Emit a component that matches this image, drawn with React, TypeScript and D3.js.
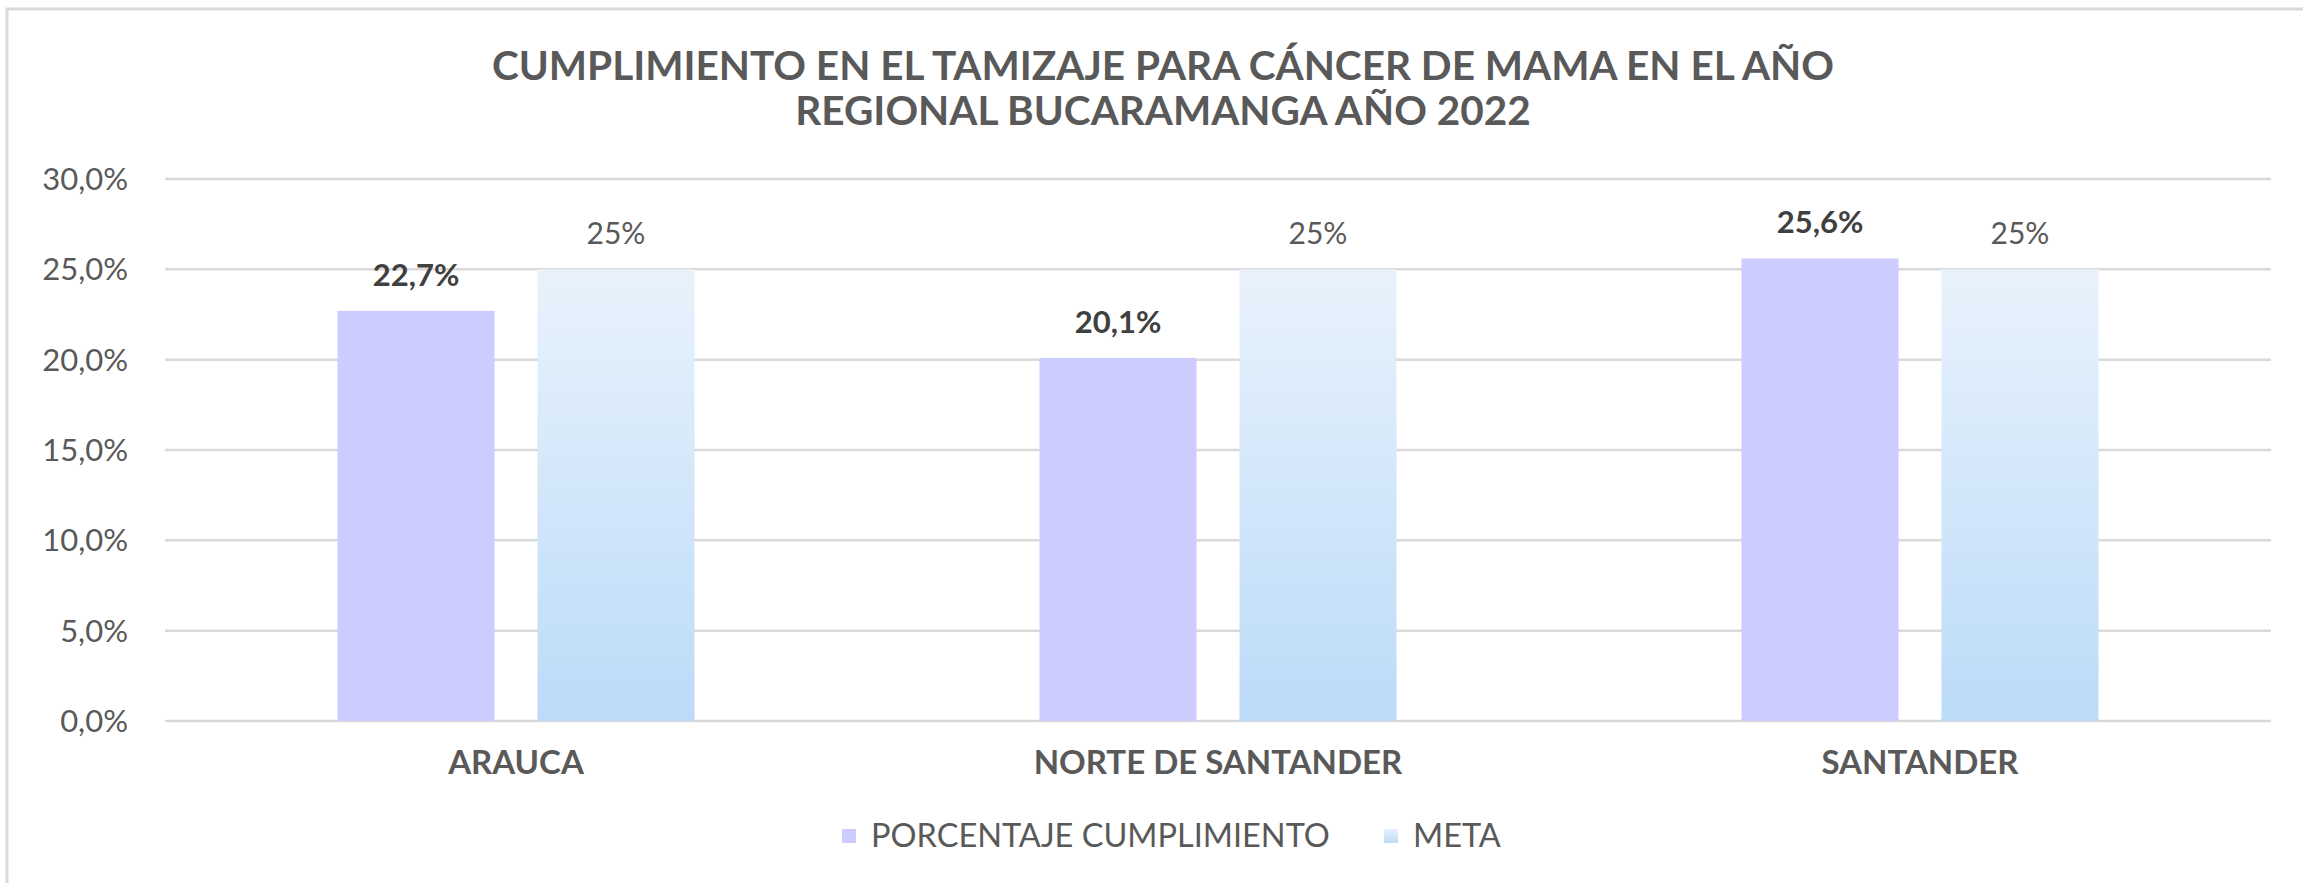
import * as d3 from "d3";

const categories = ["ARAUCA", "NORTE DE SANTANDER", "SANTANDER"];
const series = ["PORCENTAJE CUMPLIMIENTO", "META"];
const cumplimiento = [0.227, 0.201, 0.256];
const meta = [0.25, 0.25, 0.25];
const cumplimientoLabels = ["22,7%", "20,1%", "25,6%"];
const metaLabels = ["25%", "25%", "25%"];
const yTicks = [0, 0.05, 0.1, 0.15, 0.2, 0.25, 0.3];
const yTickLabels = ["0,0%", "5,0%", "10,0%", "15,0%", "20,0%", "25,0%", "30,0%"];
const titleLines = [
  "CUMPLIMIENTO EN EL TAMIZAJE PARA CÁNCER DE MAMA EN EL AÑO",
  "REGIONAL BUCARAMANGA AÑO 2022",
];

const W = 2303;
const H = 883;
const FONT = "Lato, 'Open Sans', sans-serif";
const TEXT = "#595959";

export default function App() {
  // main scales
  const x = d3.scaleBand().domain(categories).range([165, 2271]).padding(0);
  const xs = d3
    .scaleBand()
    .domain(series)
    .range([0, x.bandwidth()])
    .paddingInner(0.215)
    .paddingOuter(0.8625);
  const y = d3.scaleLinear().domain([0, 0.3]).range([721, 179]);

  const rows = categories.map((c, i) => ({
    cat: c,
    values: [
      { key: series[0], v: cumplimiento[i], label: cumplimientoLabels[i] },
      { key: series[1], v: meta[i], label: metaLabels[i] },
    ],
  }));

  return (
    <svg
      width={W}
      height={H}
      style={{ position: "absolute", left: 0, top: 0, background: "#fff" }}
      fontFamily={FONT}
    >
      <defs>
        <linearGradient id="metaGrad" x1="0" y1="0" x2="0" y2="1">
          <stop offset="0%" stopColor="#E9F2FC" />
          <stop offset="100%" stopColor="#BBDBF8" />
        </linearGradient>
      </defs>

      {/* chart frame */}
      <rect x={7} y={9} width={W} height={H} fill="#fff" stroke="#D9D9D9" strokeWidth={3} />

      {/* title */}
      {titleLines.map((t, i) => (
        <text
          key={i}
          x={1163}
          y={80 + i * 45}
          textAnchor="middle"
          fontSize={40.5}
          fontWeight={700}
          fill={TEXT}
        >
          {t}
        </text>
      ))}

      {/* grid + y labels */}
      {yTicks.map((t, i) => (
        <g key={t}>
          <line x1={165} x2={2271} y1={y(t)} y2={y(t)} stroke="#D9D9D9" strokeWidth={2.5} />
          <text
            x={128}
            y={y(t)}
            dy="0.36em"
            textAnchor="end"
            fontSize={31}
            fill={TEXT}
          >
            {yTickLabels[i]}
          </text>
        </g>
      ))}

      {/* bars */}
      {rows.map((r) => (
        <g key={r.cat} transform={`translate(${x(r.cat)},0)`}>
          {r.values.map((d, j) => (
            <g key={d.key}>
              <rect
                x={xs(d.key)}
                y={y(d.v)}
                width={xs.bandwidth()}
                height={y(0) - y(d.v)}
                fill={j === 0 ? "#CCCCFF" : "url(#metaGrad)"}
              />
              <text
                x={(xs(d.key) as number) + xs.bandwidth() / 2}
                y={y(d.v) - 25}
                textAnchor="middle"
                fontSize={j === 0 ? 31 : 30}
                fontWeight={j === 0 ? 700 : 400}
                fill={j === 0 ? "#404040" : TEXT}
              >
                {d.label}
              </text>
            </g>
          ))}
          <text
            x={x.bandwidth() / 2}
            y={774}
            textAnchor="middle"
            fontSize={33}
            fontWeight={700}
            fill={TEXT}
          >
            {r.cat}
          </text>
        </g>
      ))}

      {/* legend */}
      <rect x={842} y={829} width={14} height={14} fill="#CCCCFF" />
      <text x={871} y={847} fontSize={32.5} fill={TEXT}>
        {series[0]}
      </text>
      <rect x={1384} y={829} width={14} height={14} fill="url(#metaGrad)" />
      <text x={1413} y={847} fontSize={32.5} fill={TEXT}>
        {series[1]}
      </text>
    </svg>
  );
}
